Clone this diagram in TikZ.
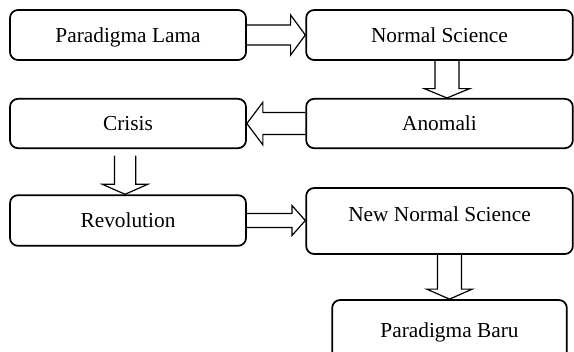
\documentclass[tikz,border=0pt]{standalone}
\usepackage{fontspec}
\setmainfont{Liberation Serif}
\usetikzlibrary{calc}

\tikzset{
  box/.style={draw,line width=1.3pt,rounded corners=6pt,inner sep=0pt,
              text height=13pt,text depth=2pt,
              font=\fontsize{16}{19}\selectfont},
  fatw/.store in=\fatw, fath/.store in=\fath, fatl/.store in=\fatl,
  fatw=7.5pt, fath=15pt, fatl=11pt,
  fatarrow/.style={draw,line width=0.9pt,line join=miter,to path={
    ($(\tikztostart)!\fatw!90:(\tikztotarget)$)
    -- ($($(\tikztotarget)!\fatl!(\tikztostart)$)!\fatw!90:(\tikztotarget)$)
    -- ($($(\tikztotarget)!\fatl!(\tikztostart)$)!\fath!90:(\tikztotarget)$)
    -- (\tikztotarget)
    -- ($($(\tikztotarget)!\fatl!(\tikztostart)$)!\fath!-90:(\tikztotarget)$)
    -- ($($(\tikztotarget)!\fatl!(\tikztostart)$)!\fatw!-90:(\tikztotarget)$)
    -- ($(\tikztostart)!\fatw!-90:(\tikztotarget)$)}}
}

\begin{document}
\begin{tikzpicture}[x=0.75pt,y=-0.75pt]
      \clip (0,0) rectangle (574,351);

      \node [box,minimum width=177pt,minimum height=37.5pt] (lama) at (128,35) {Paradigma Lama};
      \node [box,minimum width=200pt,minimum height=37.5pt] (ns) at (439.5,35) {Normal Science};
      \node [box,minimum width=200pt,minimum height=37pt] (anom) at (439.5,123.5) {Anomali};
      \node [box,minimum width=177pt,minimum height=37pt] (crisis) at (128,123.5) {Crisis};
      \node [box,minimum width=177pt,minimum height=38pt] (rev) at (128,220.5) {Revolution};
      \node [box,minimum width=200pt,minimum height=49.5pt,text depth=12pt] (nns) at (439.5,221) {New Normal Science};
      \node [box,minimum width=176pt,minimum height=45pt] (pb) at (449.5,330) {Paradigma Baru};

      \draw [fatarrow] (lama.east) to (ns.west);
      \draw [fatarrow,fatw=9pt,fath=17pt,fatl=7pt] ([xshift=5.6pt]ns.south) to ([xshift=5.6pt]ns.south |- anom.north);
      \draw [fatarrow,fatw=8.25pt,fath=16pt,fatl=12pt] (anom.west) to (crisis.east);
      \draw [fatarrow,fatw=8pt,fath=17pt,fatl=7.5pt] ([shift={(-2.2pt,-5pt)}]crisis.south) to ([xshift=-2.2pt]rev.north);
      \draw [fatarrow,fatw=5.25pt,fath=11.25pt,fatl=10pt] (rev.east) to (rev.east -| nns.west);
      \draw [fatarrow,fatw=9pt,fath=17pt,fatl=7.5pt] (nns.south -| pb.north) to (pb.north);

    \end{tikzpicture}
\end{document}
